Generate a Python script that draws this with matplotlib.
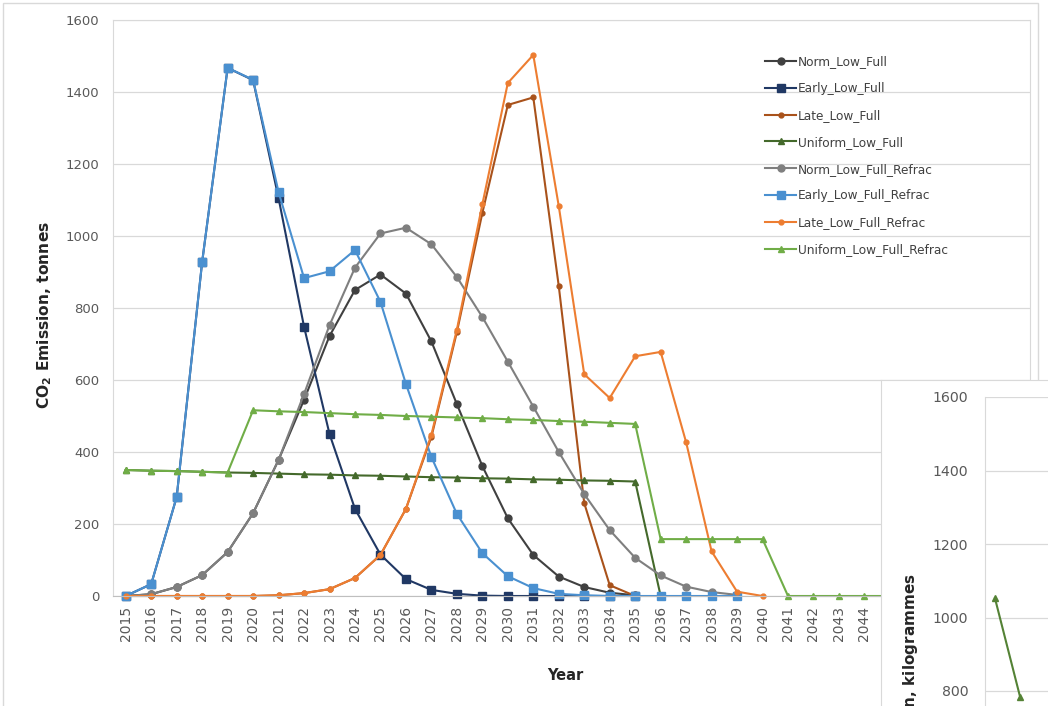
import matplotlib
matplotlib.use("Agg")
import matplotlib.pyplot as plt
from matplotlib.patches import Rectangle

# --- data ---
ALL_YEARS = list(range(2015, 2051))

norm_full_years = list(range(2015, 2036))
norm_full = [0, 5, 25, 58, 122, 230, 378, 545, 722, 850, 893, 840, 707, 533,
             361, 216, 114, 54, 25, 9, 2]

early_full_years = list(range(2015, 2036))
early_full = [0, 33, 275, 928, 1467, 1433, 1105, 748, 450, 242, 115, 47, 17,
              6, 1, 0, 0, 0, 0, 0, 0]

late_full_years = list(range(2015, 2036))
late_full = [0, 0, 0, 0, 0, 0, 2, 8, 19, 50, 114, 242, 442, 733, 1064, 1364,
             1385, 861, 258, 30, 0]

uniform_full_years = list(range(2015, 2037))
uniform_full = [350, 348, 347, 345, 343, 342, 340, 338, 337, 335, 334, 332,
                330, 329, 327, 326, 324, 323, 321, 320, 318, 0]

norm_refrac_years = list(range(2015, 2040))
norm_refrac = [0, 5, 25, 58, 122, 230, 378, 561, 752, 912, 1007, 1023, 977,
               886, 775, 651, 526, 400, 283, 183, 106, 57, 26, 11, 3]

early_refrac_years = list(range(2015, 2040))
early_refrac = [0, 33, 275, 928, 1467, 1434, 1122, 883, 902, 961, 817, 589,
                386, 228, 119, 55, 22, 6, 2, 0, 0, 0, 0, 0, 0]

late_refrac_years = list(range(2015, 2041))
late_refrac = [0, 0, 0, 0, 0, 0, 2, 8, 19, 50, 114, 242, 448, 740, 1088, 1425,
               1503, 1083, 616, 550, 666, 678, 427, 124, 12, 0]

uniform_refrac_years = ALL_YEARS
uniform_refrac = [350, 348, 347, 345, 343, 516, 513, 511, 508, 505, 503, 500,
                  498, 496, 494, 491, 489, 486, 484, 481, 478, 158, 158, 158,
                  158, 158, 0, 0, 0, 0, 0, 0, 0, 0, 0, 0]

# second (partly hidden) chart, kilogrammes
inset_years = [2015, 2016]
inset_uniform = [1052, 785]

SERIES = [
    ("Norm_Low_Full", norm_full_years, norm_full, "#404040", "o", 5),
    ("Early_Low_Full", early_full_years, early_full, "#203864", "s", 5.5),
    ("Late_Low_Full", late_full_years, late_full, "#A9521B", "o", 3.5),
    ("Uniform_Low_Full", uniform_full_years, uniform_full, "#44692B", "^", 5),
    ("Norm_Low_Full_Refrac", norm_refrac_years, norm_refrac, "#7F7F7F", "o", 5),
    ("Early_Low_Full_Refrac", early_refrac_years, early_refrac, "#4A90D0", "s", 5.5),
    ("Late_Low_Full_Refrac", late_refrac_years, late_refrac, "#ED7D31", "o", 3.5),
    ("Uniform_Low_Full_Refrac", uniform_refrac_years, uniform_refrac, "#70AD47", "^", 5),
]

W, H = 1048, 706
GRID = "#D9D9D9"
TICK = "#595959"

plt.rcParams["font.family"] = ["DejaVu Sans"]


def px_rect(x0, y0, x1, y1):
    # pixel box (top-left origin) -> figure fraction [l, b, w, h]
    return [x0 / W, 1 - y1 / H, (x1 - x0) / W, (y1 - y0) / H]


fig = plt.figure(figsize=(W / 100, H / 100), dpi=100)
fig.patch.set_facecolor("white")

# main chart
ax = fig.add_axes(px_rect(113, 20, 1030, 596))
for name, yrs, vals, col, mk, ms in SERIES:
    ax.plot(yrs, vals, color=col, lw=1.5, marker=mk, ms=ms,
            mfc=col, mec=col, label=name, clip_on=False)

ax.set_xlim(2014.5, 2050.5)
ax.set_ylim(0, 1600)
ax.set_yticks(range(0, 1601, 200))
ax.set_xticks(ALL_YEARS)
ax.set_xticklabels([str(y) for y in ALL_YEARS], rotation=90)
ax.tick_params(axis="y", length=0, pad=10, labelsize=9.5, labelcolor=TICK)
ax.tick_params(axis="x", length=0, pad=7, labelsize=10, labelcolor=TICK)
ax.grid(axis="y", color=GRID, lw=0.9)
ax.set_axisbelow(True)
for side in ["left", "right", "top"]:
    ax.spines[side].set_color(GRID)
ax.spines["bottom"].set_color("#BFBFBF")

# outer chart-area border
ax.add_patch(Rectangle((3 / W, -0.1), (1038 - 3) / W, 1.1 - 3 / H,
                       transform=fig.transFigure, fill=False, ec=GRID,
                       lw=1, clip_on=False))

leg = ax.legend(loc="upper left", bbox_to_anchor=(765 / W, 1 - 55 / H),
                bbox_transform=fig.transFigure, frameon=False, fontsize=8.7,
                labelspacing=1.15, handlelength=2.6, handletextpad=0.15,
                borderpad=0, borderaxespad=0)
for t in leg.get_texts():
    t.set_color("#404040")

fig.text(45 / W, 1 - 315 / H, r"CO$_\mathbf{2}$ Emission, tonnes", rotation=90,
         ha="center", va="center", fontsize=11.2, weight="bold", color="#262626")
fig.text(565 / W, 1 - 675 / H, "Year", ha="center", va="center",
         fontsize=10.5, weight="bold", color="#262626")

# second chart overlapping bottom right
ax_bg = fig.add_axes(px_rect(881, 380, 1400, 1100))
ax_bg.set_facecolor("white")
ax_bg.set_xticks([])
ax_bg.set_yticks([])
for sp in ax_bg.spines.values():
    sp.set_color(GRID)

ax_in = fig.add_axes(px_rect(985, 397, 1485, 985))
ax_in.plot(inset_years, inset_uniform, color="#548235", lw=1.5, marker="^",
           ms=5, mfc="#548235", mec="#548235")
ax_in.set_xlim(2014.6, 2034.6)
ax_in.set_ylim(0, 1600)
ax_in.set_yticks(range(0, 1601, 200))
ax_in.set_xticks([])
ax_in.tick_params(axis="y", length=0, pad=12, labelsize=10.2, labelcolor=TICK)
ax_in.grid(axis="y", color=GRID, lw=0.9)
ax_in.set_axisbelow(True)
for side in ["right", "top", "bottom"]:
    ax_in.spines[side].set_visible(False)
ax_in.spines["left"].set_color(GRID)

fig.text(911 / W, 1 - 573 / H, r"CO$_\mathbf{2}$ Emission, kilogrammes",
         rotation=90, ha="center", va="top", fontsize=11, weight="bold",
         color="#262626")

fig.savefig("out.png", dpi=100, facecolor="white")
